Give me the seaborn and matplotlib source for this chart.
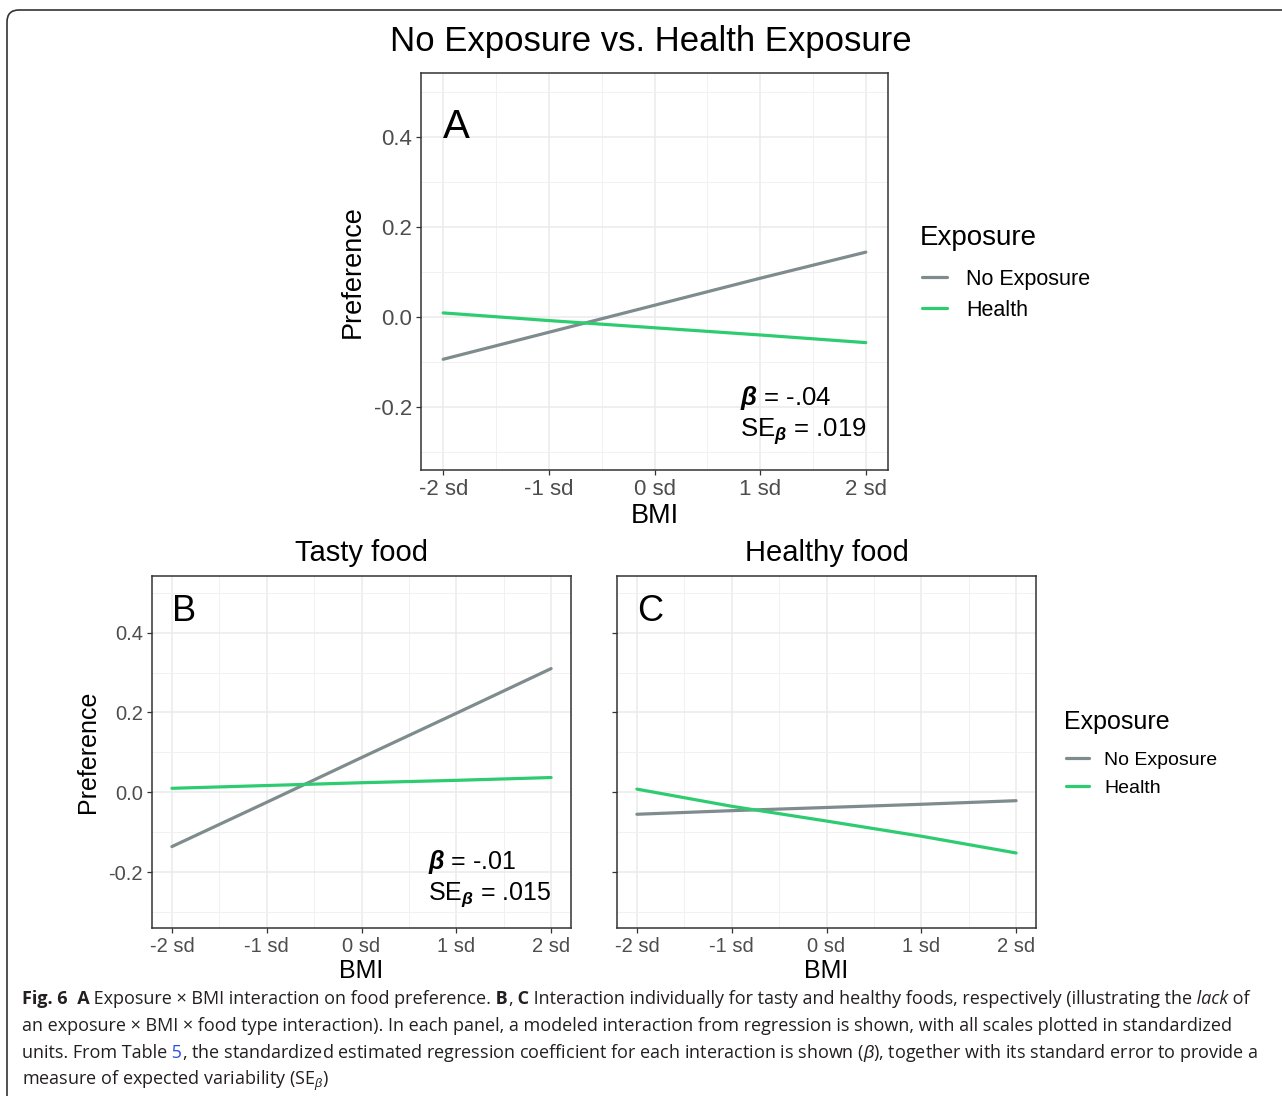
import numpy as np
import pandas as pd
import matplotlib
matplotlib.use("Agg")
import matplotlib.pyplot as plt
import seaborn as sns
from matplotlib.patches import FancyBboxPatch

# ---------------- data ----------------
bmi_sd = [-2, -1, 0, 1, 2]
tick_labels = ["-2 sd", "-1 sd", "0 sd", "1 sd", "2 sd"]
exposure_levels = ["No Exposure", "Health"]

a_no_exposure = [-0.094, -0.034, 0.026, 0.086, 0.144]
a_health = [0.009, -0.008, -0.024, -0.040, -0.057]
b_no_exposure = [-0.136, -0.025, 0.087, 0.198, 0.310]
b_health = [0.010, 0.017, 0.024, 0.030, 0.037]
c_no_exposure = [-0.055, -0.046, -0.038, -0.030, -0.021]
c_health = [0.008, -0.035, -0.072, -0.110, -0.152]

y_ticks = [-0.2, 0.0, 0.2, 0.4]
y_tick_labels = ["-0.2", "0.0", "0.2", "0.4"]

main_title = "No Exposure vs. Health Exposure"
panel_titles = ["Tasty food", "Healthy food"]
panel_letters = ["A", "B", "C"]
betas = ["-.04", "-.01"]
ses = [".019", ".015"]
legend_title = "Exposure"

palette = {"No Exposure": "#7F8C8D", "Health": "#2ECC71"}

# ---------------- style ----------------
sns.set_theme(style="white")
plt.rcParams["font.family"] = ["Liberation Sans", "DejaVu Sans"]
plt.rcParams["text.color"] = "black"
plt.rcParams["mathtext.fontset"] = "custom"
plt.rcParams["mathtext.rm"] = "Liberation Sans"
plt.rcParams["mathtext.it"] = "Liberation Sans:italic"
plt.rcParams["mathtext.bf"] = "Liberation Sans:bold"
plt.rcParams["mathtext.bfit"] = "Liberation Sans:italic:bold"

W, H = 1282, 1096
fig = plt.figure(figsize=(W / 100, H / 100), dpi=100)
fig.patch.set_facecolor("white")


def px_axes(left, top, right, bottom):
    return fig.add_axes([left / W, 1 - bottom / H, (right - left) / W, (bottom - top) / H])


def make_df(no_exp, health):
    return pd.DataFrame({
        "BMI": bmi_sd * 2,
        "Preference": list(no_exp) + list(health),
        "Exposure": [exposure_levels[0]] * len(bmi_sd) + [exposure_levels[1]] * len(bmi_sd),
    })


def draw_panel(ax, df, tick_fs, label_fs, show_ylab):
    sns.lineplot(data=df, x="BMI", y="Preference", hue="Exposure",
                 hue_order=exposure_levels, palette=palette, linewidth=2.3,
                 ax=ax, errorbar=None, legend=True)
    handles, labels = ax.get_legend_handles_labels()
    if ax.get_legend() is not None:
        ax.get_legend().remove()
    ax.set_xlim(-2.21, 2.21)
    ax.set_ylim(-0.34, 0.542)
    ax.set_xticks(bmi_sd, tick_labels)
    ax.set_yticks(y_ticks, y_tick_labels if show_ylab else [])
    ax.set_xticks([-1.5, -0.5, 0.5, 1.5], minor=True)
    ax.set_yticks([-0.3, -0.1, 0.1, 0.3, 0.5], minor=True)
    ax.grid(True, which="major", color="#EBEBEB", linewidth=1.1)
    ax.grid(True, which="minor", color="#F1F1F1", linewidth=0.7)
    ax.set_axisbelow(True)
    for s in ax.spines.values():
        s.set_visible(True)
        s.set_color("#333333")
        s.set_linewidth(1.1)
    ax.tick_params(which="major", length=3.5, width=0.9, color="#333333",
                   labelcolor="#4D4D4D", labelsize=tick_fs, pad=3,
                   left=True, bottom=True)
    ax.tick_params(which="minor", length=0)
    ax.set_xlabel("BMI", fontsize=label_fs, labelpad=2, color="black")
    ax.set_ylabel("Preference" if show_ylab else "", fontsize=label_fs, labelpad=6, color="black")
    return handles, labels


def add_legend(handles, labels, title_xy, title_fs, item_anchor, item_fs, hlen, hpad, lspace):
    fig.text(title_xy[0] / W, 1 - title_xy[1] / H, legend_title, fontsize=title_fs,
             ha="left", va="center")
    fig.legend(handles, labels, loc="upper left",
               bbox_to_anchor=(item_anchor[0] / W, 1 - item_anchor[1] / H),
               bbox_transform=fig.transFigure, frameon=False, fontsize=item_fs,
               handlelength=hlen, handletextpad=hpad, labelspacing=lspace,
               borderpad=0, borderaxespad=0)


# ---------------- panel A ----------------
axA = px_axes(421, 73, 888, 470)
hA, lA = draw_panel(axA, make_df(a_no_exposure, a_health), 16, 19.5, True)
axA.text(-2.0, 0.422, panel_letters[0], fontsize=29, ha="left", va="center")
axA.text(0.81, -0.196, r"$\mathbfit{\beta}$ = " + betas[0], fontsize=18.5, ha="left", va="baseline")
axA.text(0.81, -0.267, r"SE$_{\mathbfit{\beta}}$ = " + ses[0], fontsize=18.5, ha="left", va="baseline")
add_legend(hA, lA, (920, 238), 20, (922, 269), 15.5, 1.15, 0.9, 0.45)

fig.text(651 / W, 1 - 41 / H, main_title, fontsize=25, ha="center", va="center")

# ---------------- panel B ----------------
axB = px_axes(152, 576, 571, 928)
hB, lB = draw_panel(axB, make_df(b_no_exposure, b_health), 14.5, 18, True)
axB.set_title(panel_titles[0], fontsize=21, pad=11)
axB.text(-2.0, 0.452, panel_letters[1], fontsize=26, ha="left", va="center")
axB.text(0.70, -0.192, r"$\mathbfit{\beta}$ = " + betas[1], fontsize=18, ha="left", va="baseline")
axB.text(0.70, -0.269, r"SE$_{\mathbfit{\beta}}$ = " + ses[1], fontsize=18, ha="left", va="baseline")

# ---------------- panel C ----------------
axC = px_axes(617, 576, 1036, 928)
hC, lC = draw_panel(axC, make_df(c_no_exposure, c_health), 14.5, 18, False)
axC.set_title(panel_titles[1], fontsize=21, pad=11)
axC.text(-2.0, 0.452, panel_letters[2], fontsize=26, ha="left", va="center")
add_legend(hC, lC, (1064, 722), 18, (1066, 751), 14, 1.2, 0.75, 0.55)

# ---------------- frame ----------------
border = FancyBboxPatch((0.07, -0.5), 14, (H - 10) / 100 + 0.5,
                        boxstyle="round,pad=0,rounding_size=0.12",
                        transform=fig.dpi_scale_trans, fill=False,
                        edgecolor="#333333", linewidth=1.2)
fig.add_artist(border)

# ---------------- caption ----------------
cap_ax = fig.add_axes([0, 0, 1, 1])
cap_ax.set_axis_off()
cap_fs = 13.0
cap_color = "#231F20"
cap_family = ["Open Sans", "DejaVu Sans"]
B = {"fontweight": "bold"}
I = {"fontstyle": "italic"}
N = {}
LINK = {"color": "#2B4EE0"}

caption_lines = [
    [("Fig. 6", B), ("  A", B), (" Exposure \u00d7 BMI interaction on food preference.", N), (" B", B),
     (",", N), (" C", B),
     (" Interaction individually for tasty and healthy foods, respectively (illustrating the", N),
     (" lack", I), (" of", N)],
    [("an exposure \u00d7 BMI \u00d7 food type interaction). In each panel, a modeled interaction from regression is shown, with all scales plotted in standardized", N)],
    [("units. From Table", N), (" 5", LINK),
     (", the standardized estimated regression coefficient for each interaction is shown ($\\beta$), together with its standard error to provide a", N)],
    [("measure of expected variability (SE$_\\beta$)", N)],
]
caption_baselines = [1004, 1031, 1058, 1085]


def caption_line(segments, y_px):
    y = 1 - y_px / H
    prev = None
    for text, style in segments:
        kw = dict(fontsize=cap_fs, color=cap_color, family=cap_family, va="baseline", ha="left")
        kw.update(style)
        if prev is None:
            prev = cap_ax.text(22 / W, y, text, transform=fig.transFigure, **kw)
        else:
            prev = cap_ax.annotate(text, xy=(1, y), xycoords=(prev, "figure fraction"), **kw)


for segs, yb in zip(caption_lines, caption_baselines):
    caption_line(segs, yb)

fig.savefig("out.png", dpi=100)
